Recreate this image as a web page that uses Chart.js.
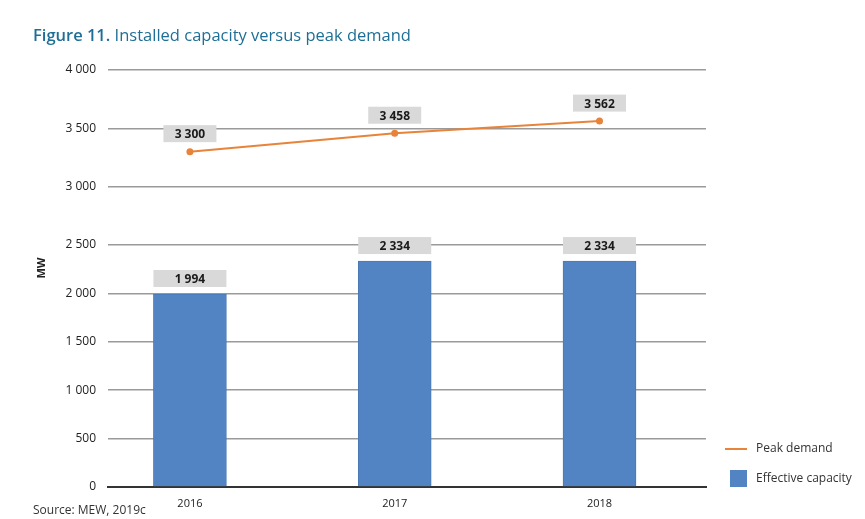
<!DOCTYPE html>
<html>
<head>
<meta charset="utf-8">
<script src="https://cdn.jsdelivr.net/npm/chart.js@4"></script>
<style>
  body { margin: 0; background: #fff; font-family: "Open Sans", sans-serif; }
  #wrap { position: relative; width: 865px; height: 519px; }
  #title { position: absolute; left: 33px; top: 23px; font-size: 16.5px; color: #1d6f96; white-space: nowrap; }
  #title b { font-weight: 600; }
  #source { position: absolute; left: 33px; top: 501px; font-size: 12px; color: #333; }
  canvas { position: absolute; left: 0; top: 0; }
</style>
</head>
<body>
<div id="wrap">
  <canvas id="chart" width="865" height="519"></canvas>
  <div id="title"><b>Figure 11.</b> Installed capacity versus peak demand</div>
  <div id="source">Source: MEW, 2019c</div>
</div>
<script>
const years = ['2016', '2017', '2018'];
const peakDemand = [3300, 3458, 3562];
const effectiveCapacity = [1994, 2334, 2334];
const lowerTicks = [0, 500, 1000, 1500, 2000, 2500];
const upperTicks = [3000, 3500, 4000];

const fontFamily = '"Open Sans", sans-serif';

function fmt(n) {
    return String(n).replace(/\B(?=(\d{3})+(?!\d))/g, ' ');
}

// grey boxes with the value above each bar / point
const valueLabels = {
    id: 'valueLabels',
    afterDatasetsDraw(chart) {
        const ctx = chart.ctx;
        ctx.save();
        ctx.font = 'bold 12px ' + fontFamily;
        ctx.textAlign = 'center';
        ctx.textBaseline = 'middle';
        chart.data.datasets.forEach((ds, di) => {
            const meta = chart.getDatasetMeta(di);
            meta.data.forEach((el, i) => {
                const v = ds.data[i].y;
                let w, h = 17, cy;
                if (ds.type === 'line') {
                    w = 53;
                    cy = el.y - 18;
                } else {
                    w = el.width;
                    cy = el.y - 7 - h / 2;
                }
                ctx.fillStyle = '#d9d9d9';
                ctx.fillRect(el.x - w / 2, cy - h / 2, w, h);
                ctx.fillStyle = '#1a1a1a';
                ctx.fillText(fmt(v), el.x, cy + 1);
            });
        });
        ctx.restore();
    }
};

// axis title and legend at the right
const extras = {
    id: 'extras',
    afterDraw(chart) {
        const ctx = chart.ctx;
        ctx.save();
        ctx.translate(42, 268);
        ctx.rotate(-Math.PI / 2);
        ctx.font = 'bold 11px ' + fontFamily;
        ctx.fillStyle = '#222';
        ctx.textAlign = 'center';
        ctx.textBaseline = 'middle';
        ctx.fillText('MW', 0, 0);
        ctx.restore();

        const line = chart.data.datasets[0];
        const bar = chart.data.datasets[1];
        ctx.save();
        ctx.font = '12px ' + fontFamily;
        ctx.fillStyle = '#333';
        ctx.textBaseline = 'middle';
        ctx.strokeStyle = line.borderColor;
        ctx.lineWidth = 2;
        ctx.beginPath();
        ctx.moveTo(725, 449);
        ctx.lineTo(747, 449);
        ctx.stroke();
        ctx.fillText(line.label, 756, 449);
        ctx.fillStyle = bar.backgroundColor;
        ctx.fillRect(730, 470, 17, 17);
        ctx.fillStyle = '#333';
        ctx.fillText(bar.label, 756, 479);
        ctx.restore();
    }
};

new Chart(document.getElementById('chart'), {
    type: 'bar',
    data: {
        datasets: [
            {
                type: 'line',
                label: 'Peak demand',
                data: peakDemand.map((v, i) => ({ x: i, y: v })),
                yAxisID: 'yTop',
                borderColor: '#e8833a',
                backgroundColor: '#e8833a',
                borderWidth: 2,
                pointRadius: 2.5,
                tension: 0,
                order: 0
            },
            {
                type: 'bar',
                label: 'Effective capacity',
                data: effectiveCapacity.map((v, i) => ({ x: i, y: v })),
                yAxisID: 'y',
                backgroundColor: '#5284c4',
                borderColor: '#4a78b4',
                borderWidth: 1,
                barThickness: 73,
                order: 1
            }
        ]
    },
    options: {
        responsive: false,
        animation: false,
        layout: { padding: { top: 70, right: 159, left: 0, bottom: 0 } },
        plugins: {
            legend: { display: false },
            tooltip: { enabled: false }
        },
        scales: {
            x: {
                type: 'linear',
                offset: false,
                min: -0.4,
                max: 2.52,
                afterBuildTicks: (s) => { s.ticks = years.map((y, i) => ({ value: i })); },
                afterFit: (s) => { s.height = 32; },
                ticks: {
                    callback: (v) => years[v],
                    font: { family: fontFamily, size: 11 },
                    color: '#222',
                    padding: 10
                },
                grid: { display: false, drawTicks: false },
                border: { display: true, color: '#333', width: 2 }
            },
            y: {
                type: 'linear',
                position: 'left',
                stack: 'mw',
                stackWeight: 242,
                min: 0,
                max: 2500,
                afterBuildTicks: (s) => { s.ticks = lowerTicks.map(v => ({ value: v })); },
                afterFit: (s) => { s.width = 108; },
                ticks: {
                    callback: (v) => fmt(v),
                    font: { family: fontFamily, size: 12 },
                    color: '#222',
                    padding: 12
                },
                grid: {
                    drawTicks: false,
                    color: (c) => c.tick && c.tick.value === 0 ? 'rgba(0,0,0,0)' : '#9a9a9a',
                    lineWidth: 1.5
                },
                border: { display: false }
            },
            yTop: {
                type: 'linear',
                position: 'left',
                stack: 'mw',
                stackWeight: 175,
                min: 2500,
                max: 4000,
                afterBuildTicks: (s) => { s.ticks = upperTicks.map(v => ({ value: v })); },
                afterFit: (s) => { s.width = 108; },
                ticks: {
                    callback: (v) => fmt(v),
                    font: { family: fontFamily, size: 12 },
                    color: '#222',
                    padding: 12
                },
                grid: { drawTicks: false, color: '#9a9a9a', lineWidth: 1.5 },
                border: { display: false }
            }
        }
    },
    plugins: [valueLabels, extras]
});
</script>
</body>
</html>
